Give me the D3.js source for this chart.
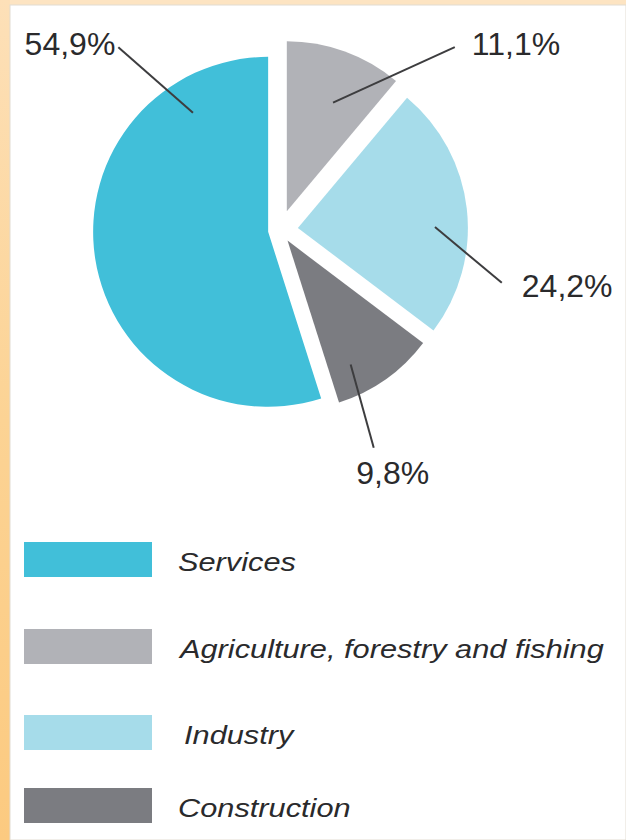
<!DOCTYPE html>
<html>
<head>
<meta charset="utf-8">
<script src="https://cdn.jsdelivr.net/npm/d3@7"></script>
<style>
  html, body { margin: 0; padding: 0; background: #fff; }
  svg { display: block; }
</style>
</head>
<body>
<div id="chart"></div>
<script>
// Data (legend order)
const categories = ["Services", "Agriculture, forestry and fishing", "Industry", "Construction"];
const values = [54.9, 11.1, 24.2, 9.8];
const labels = ["54,9%", "11,1%", "24,2%", "9,8%"];

const colors = ["#41bfd9", "#b1b2b7", "#a6dcea", "#7b7c81"];

const width = 626, height = 840;
const cx = 280, cy = 230;
const explode = [12, 20, 18, 13];      // offset of each slice from the centre
const radius = [175, 170, 170, 170];

// leader lines: [inner angle, inner r, outer angle, outer r] in degrees/px from the centre
const leaders = [[323.4, 146, 318.5, 244], [22.6, 138, 43.7, 253], [88.9, 155, 103.4, 228], [152.3, 152, 156.7, 237]];

const svg = d3.select("#chart")
  .append("svg")
    .attr("width", width)
    .attr("height", height)
    .style("font-family", "'Liberation Sans', Arial, Helvetica, sans-serif");

// Frame background
const defs = svg.append("defs");
const grad = defs.append("linearGradient")
    .attr("id", "leftband")
    .attr("x1", 0).attr("y1", 0).attr("x2", 0).attr("y2", 1);
grad.append("stop").attr("offset", "0%").attr("stop-color", "#fde0b8");
grad.append("stop").attr("offset", "50%").attr("stop-color", "#fcd394");
grad.append("stop").attr("offset", "100%").attr("stop-color", "#fcca80");

svg.append("rect").attr("width", width).attr("height", height).attr("fill", "#fde4c2");
svg.append("rect").attr("width", 10).attr("height", height).attr("fill", "url(#leftband)");
svg.append("rect")
    .attr("x", 10).attr("y", 5)
    .attr("width", width - 10).attr("height", height - 5)
    .attr("fill", "#fff")
    .attr("stroke", "#e2dcd2")
    .attr("stroke-width", 1);

// Pie: services runs counterclockwise from 12 o'clock, the rest clockwise
const total = d3.sum(values);
const start = -values[0] / total * 2 * Math.PI;
const pie = d3.pie().sort(null).startAngle(start).endAngle(start + 2 * Math.PI);
const arcs = pie(values);

const arc = d3.arc().innerRadius(0);

const toRad = d => d * Math.PI / 180;

const g = svg.append("g").attr("transform", `translate(${cx},${cy})`);

g.selectAll("path.slice")
  .data(arcs)
  .enter()
  .append("path")
    .attr("class", "slice")
    .attr("d", (d, i) => arc.outerRadius(radius[i])(d))
    .attr("fill", (d, i) => colors[i])
    .attr("transform", (d, i) => {
      const p = d3.pointRadial((d.startAngle + d.endAngle) / 2, explode[i]);
      return `translate(${p[0]},${p[1]})`;
    });

// Leader lines
g.selectAll("line.leader")
  .data(leaders)
  .enter()
  .append("line")
    .attr("class", "leader")
    .attr("x1", d => d3.pointRadial(toRad(d[0]), d[1])[0])
    .attr("y1", d => d3.pointRadial(toRad(d[0]), d[1])[1])
    .attr("x2", d => d3.pointRadial(toRad(d[2]), d[3])[0])
    .attr("y2", d => d3.pointRadial(toRad(d[2]), d[3])[1])
    .attr("stroke", "#3d3d3f")
    .attr("stroke-width", 2);

// Percent labels
const labelPos = [
  { dx: -3, dy: 8, anchor: "end" },
  { dx: 17, dy: 8, anchor: "start" },
  { dx: 20, dy: 14, anchor: "start" },
  { dx: 19, dy: 36, anchor: "middle" }
];
g.selectAll("text.pct")
  .data(leaders)
  .enter()
  .append("text")
    .attr("class", "pct")
    .attr("x", (d, i) => d3.pointRadial(toRad(d[2]), d[3])[0] + labelPos[i].dx)
    .attr("y", (d, i) => d3.pointRadial(toRad(d[2]), d[3])[1] + labelPos[i].dy)
    .attr("text-anchor", (d, i) => labelPos[i].anchor)
    .style("font-size", "32px")
    .attr("fill", "#2a2a2c")
    .text((d, i) => labels[i]);

// Legend
const legendY = [542, 629, 715, 788];
const legendTextX = [178, 180, 184, 178];
const legend = svg.selectAll("g.legend")
  .data(categories)
  .enter()
  .append("g")
    .attr("class", "legend")
    .attr("transform", (d, i) => `translate(0,${legendY[i]})`);

legend.append("rect")
    .attr("x", 24)
    .attr("width", 128)
    .attr("height", 35)
    .attr("fill", (d, i) => colors[i]);

// legend text in the reference is set wide, so stretch it horizontally
legend.append("text")
    .attr("transform", (d, i) => `translate(${legendTextX[i]},29) scale(1.23,1)`)
    .style("font-size", "25px")
    .style("font-style", "italic")
    .attr("fill", "#2a2a2c")
    .text(d => d);
</script>
</body>
</html>
